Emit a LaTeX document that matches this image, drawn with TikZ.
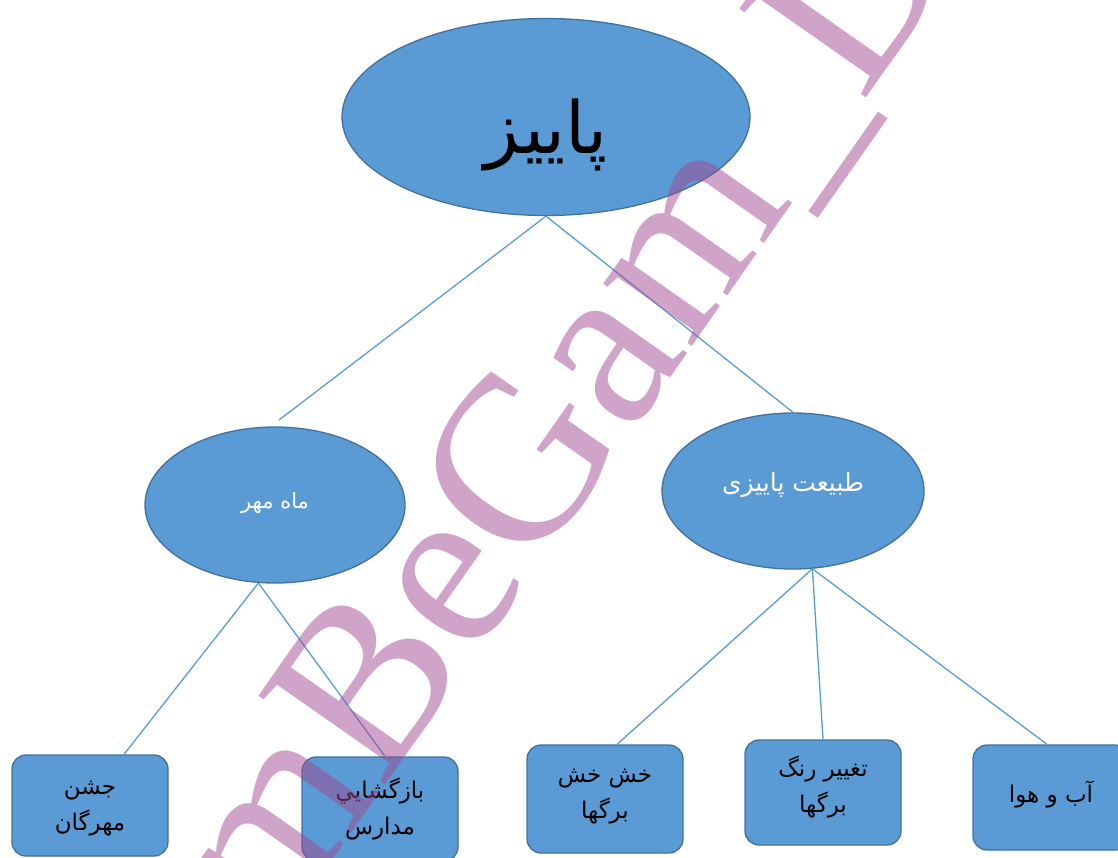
\documentclass[tikz,border=0pt]{standalone}
\usepackage{fontspec}
\usetikzlibrary{shapes.geometric,calc}
\TeXXeTstate=1
\newfontfamily\arabicfont[Script=Arabic]{DejaVu Sans}
\newfontfamily\wmfont{Liberation Serif}
\definecolor{fillblue}{RGB}{91,155,213}
\definecolor{edgeblue}{RGB}{65,113,156}
\definecolor{wmcol}{RGB}{161,73,145}
\newcommand{\shiftup}[2]{\raisebox{#1}[\height][\depth]{#2}}
\begin{document}
\begin{tikzpicture}[x=1pt,y=1pt,
  ell/.style={ellipse, draw=edgeblue, fill=fillblue, line width=1.3pt, inner sep=0pt},
  box/.style={rectangle, rounded corners=14pt, draw=edgeblue, fill=fillblue, line width=1.3pt,
    minimum width=156pt, inner sep=0pt, font=\arabicfont\fontsize{23}{25}\selectfont},
  midtext/.style={text=white},
  conn/.style={draw=fillblue, line width=1.3pt}]
\def\arraystretch{1.45}
\useasboundingbox (0,0) rectangle (1118,-857);
\clip (0,0) rectangle (1118,-857);
% nodes
\node[ell, minimum width=408pt, minimum height=197pt, font=\arabicfont\fontsize{72}{74}\selectfont] (autumn) at (546,-117) {\shiftup{-18pt}{\beginR پاییز\endR}};
\node[ell, midtext, minimum width=260pt, minimum height=156pt, font=\arabicfont\fontsize{21}{24}\selectfont] (mehr) at (275,-505) {\shiftup{2pt}{\beginR ماه مهر\endR}};
\node[ell, midtext, minimum width=262pt, minimum height=156pt, font=\arabicfont\fontsize{25}{28}\selectfont] (nature) at (793,-491) {\shiftup{6pt}{\beginR طبیعت پاییزی\endR}};
\node[box, minimum height=101pt] (b1) at (90,-805.5) {\begin{tabular}{@{}c@{}}\beginR جشن\endR\\\beginR مهرگان\endR\end{tabular}};
\node[box, minimum height=104pt] (b2) at (380,-809) {\begin{tabular}{@{}c@{}}\beginR بازگشايي\endR\\\beginR مدارس\endR\end{tabular}};
\node[box, minimum height=108pt] (b3) at (605,-799) {\shiftup{6pt}{\begin{tabular}{@{}c@{}}\beginR خش خش\endR\\\beginR برگها\endR\end{tabular}}};
\node[box, minimum height=105pt] (b4) at (823,-792.5) {\shiftup{5pt}{\begin{tabular}{@{}c@{}}\beginR تغییر رنگ\endR\\\beginR برگها\endR\end{tabular}}};
\node[box, minimum height=105pt] (b5) at (1051,-797.5) {\shiftup{3pt}{\beginR آب و هوا\endR}};
% connectors
\coordinate (mehrend) at (279,-420);
\draw[conn] (autumn.south) -- (mehrend);
\draw[conn] (autumn.south) -- (nature.north);
\draw[conn] (mehr.-102) -- ($(b1.north)+(34,0)$);
\draw[conn] (mehr.-102) -- ($(b2.north)+(5,0)$);
\draw[conn] (nature.-76) -- ($(b3.north)+(12,0)$);
\draw[conn] (nature.-76) -- (b4.north);
\draw[conn] (nature.-76) -- ($(b5.north)+(-4,0)$);
% watermark
\node[rotate=55, anchor=base west, inner sep=0pt, text=wmcol, text opacity=0.5,
  font=\wmfont\fontsize{236}{236}\selectfont] (wm) at (276,-941) {mBeGam\_D};
\end{tikzpicture}
\end{document}
